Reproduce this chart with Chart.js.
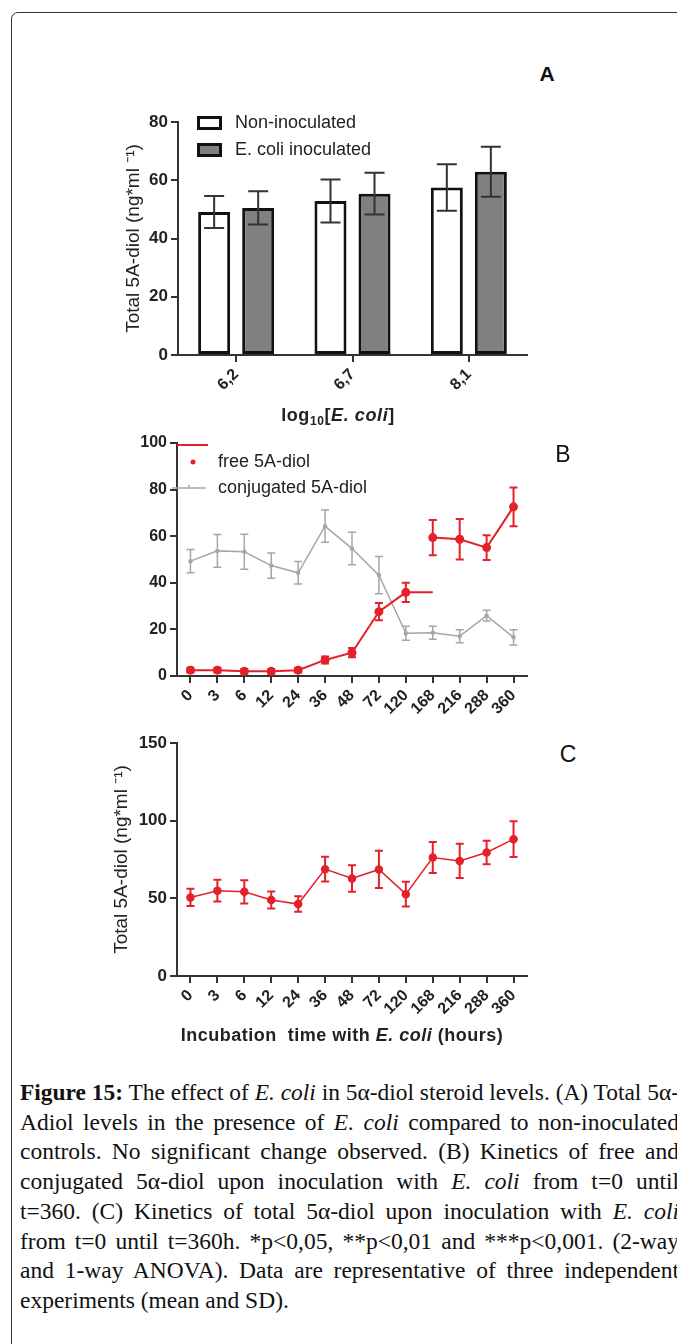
<!DOCTYPE html>
<html>
<head>
<meta charset="utf-8">
<script src="https://cdn.jsdelivr.net/npm/chart.js@4.4.1/dist/chart.umd.min.js"></script>
<style>
body { margin: 0; width: 677px; height: 1344px; background: #fff; overflow: hidden; position: relative; font-family: 'Liberation Sans', Arial, sans-serif; }
#frame { position: absolute; left: 11px; top: 12px; width: 720px; height: 1400px; border: 1px solid #333; border-radius: 7px; }
canvas { position: absolute; }
.letter { position: absolute; color: #111; line-height: 1; transform: translate(-50%, -50%); }
#caption { position: absolute; left: 20px; top: 1078px; font-family: 'Liberation Serif', 'Times New Roman', serif; font-size: 23.5px; line-height: 29.7px; color: #111; }
#caption .ln { white-space: nowrap; transform-origin: 0 0; }
</style>
</head>
<body>
<div id="frame"></div>
<canvas id="chart-a" width="430" height="340" style="left:110px; top:90px"></canvas>
<canvas id="chart-b" width="430" height="310" style="left:110px; top:425px"></canvas>
<canvas id="chart-c" width="440" height="330" style="left:100px; top:725px"></canvas>
<div class="letter" style="left:547px; top:73px; font-size:21px; font-weight:bold">A</div>
<div class="letter" style="left:563px; top:454px; font-size:23px">B</div>
<div class="letter" style="left:568px; top:754px; font-size:23px">C</div>

<div id="caption">
  <div class="ln"><span><b>Figure 15:</b> The effect of <i>E. coli</i> in 5α-diol steroid levels. (A) Total 5α-</span></div>
  <div class="ln"><span>Adiol levels in the presence of <i>E. coli</i> compared to non-inoculated</span></div>
  <div class="ln"><span>controls. No significant change observed. (B) Kinetics of free and</span></div>
  <div class="ln"><span>conjugated 5α-diol upon inoculation with <i>E. coli</i> from t=0 until</span></div>
  <div class="ln"><span>t=360. (C) Kinetics of total 5α-diol upon inoculation with <i>E. coli</i></span></div>
  <div class="ln"><span>from t=0 until t=360h. *p&lt;0,05, **p&lt;0,01 and ***p&lt;0,001. (2-way</span></div>
  <div class="ln"><span>and 1-way ANOVA). Data are representative of three independent</span></div>
  <div class="ln last"><span>experiments (mean and SD).</span></div>
</div>

<script>
// panel A - bars
const groupLabels = ['6,2', '6,7', '8,1'];
const nonInoculated = [49.1, 52.9, 57.5];
const nonInoculatedSD = [5.5, 7.4, 8.0];
const ecoliInoculated = [50.5, 55.4, 62.9];
const ecoliInoculatedSD = [5.7, 7.2, 8.6];

// panel B + C - time course (hours)
const hours = ['0', '3', '6', '12', '24', '36', '48', '72', '120', '168', '216', '288', '360'];
// free 5A-diol is drawn in two pieces in the original (line after 120h runs flat to 168)
const freeEarly = [2.5, 2.5, 2, 2, 2.5, 6.9, 10, 27.6, 35.9, 35.9, null, null, null];
const freeEarlySD = [1, 1, 1, 1, 1, 1.5, 2, 3.7, 4.1, 0, null, null, null];
const freeLate = [null, null, null, null, null, null, null, null, null, 59.4, 58.7, 55.1, 72.6];
const freeLateSD = [null, null, null, null, null, null, null, null, null, 7.6, 8.7, 5.3, 8.3];
const conjugated = [49.3, 53.7, 53.3, 47.4, 44.3, 64.3, 54.7, 43.3, 18.3, 18.6, 17.1, 25.9, 16.6];
const conjugatedSD = [5, 7, 7.5, 5.4, 4.8, 6.9, 7, 8, 3, 2.8, 2.8, 2.3, 3.3];
const totalDiol = [50.6, 54.9, 54.2, 48.9, 46.3, 68.8, 62.8, 68.6, 52.7, 76.3, 74.1, 79.5, 88.1];
const totalDiolSD = [5.5, 7, 7.5, 5.5, 5, 8, 8.5, 12, 8, 10, 11, 7.5, 11.5];

const yTicksA = [0, 20, 40, 60, 80];
const yTicksB = [0, 20, 40, 60, 80, 100];
const yTicksC = [0, 50, 100, 150];

const RED = '#e4202a';
const GREY = '#a6a6a6';
const INK = '#222';
const FONT = "'Liberation Sans', Arial, sans-serif";

Chart.defaults.font.family = FONT;
Chart.defaults.color = INK;

// error bars drawn from dataset.errors through the y scale
const errorBars = {
    id: 'errorBars',
    afterDatasetsDraw(chart) {
        const ctx = chart.ctx;
        const y = chart.scales.y;
        chart.data.datasets.forEach(function (ds, i) {
            if (!ds.errors) return;
            const meta = chart.getDatasetMeta(i);
            ctx.save();
            ctx.strokeStyle = ds.errorColor;
            ctx.lineWidth = ds.errorWidth;
            meta.data.forEach(function (el, j) {
                const v = ds.data[j], e = ds.errors[j];
                if (v == null || !e) return;
                const top = y.getPixelForValue(v + e);
                const bot = y.getPixelForValue(v - e);
                const c = ds.capWidth / 2;
                ctx.beginPath();
                ctx.moveTo(el.x, top); ctx.lineTo(el.x, bot);
                ctx.moveTo(el.x - c, top); ctx.lineTo(el.x + c, top);
                ctx.moveTo(el.x - c, bot); ctx.lineTo(el.x + c, bot);
                ctx.stroke();
            });
            ctx.restore();
        });
    }
};

function drawRich(ctx, parts, cx, baseY, spacing) {
    ctx.letterSpacing = spacing || '0px';
    let total = 0;
    parts.forEach(function (p) { ctx.font = p.font; p.w = ctx.measureText(p.t).width; total += p.w; });
    let x = cx - total / 2;
    ctx.textAlign = 'left';
    ctx.textBaseline = 'alphabetic';
    parts.forEach(function (p) { ctx.font = p.font; ctx.fillText(p.t, x, baseY + (p.dy || 0)); x += p.w; });
    ctx.letterSpacing = '0px';
}

function yAxis(ticks, width, tickSize, title, titlePad) {
    return {
        min: ticks[0],
        max: ticks[ticks.length - 1],
        afterBuildTicks: function (axis) { axis.ticks = ticks.map(function (v) { return { value: v }; }); },
        ticks: { font: { size: tickSize, weight: 'bold' }, color: INK, padding: 3 },
        grid: { drawOnChartArea: false, color: '#333', lineWidth: 2, tickLength: 7 },
        border: { color: '#333', width: 2 },
        title: title ? { display: true, text: title, font: { size: 19 }, color: INK, padding: { top: titlePad, bottom: 0 } } : { display: false },
        afterFit: function (axis) { axis.width = width; }
    };
}

function xAxis(height, tickSize) {
    return {
        offset: true,
        ticks: { minRotation: 45, maxRotation: 45, autoSkip: false, font: { size: tickSize, weight: 'bold' }, color: INK, padding: 3 },
        grid: { drawOnChartArea: false, offset: false, color: '#333', lineWidth: 2, tickLength: 7 },
        border: { color: '#333', width: 2 },
        afterFit: function (axis) { axis.height = height; }
    };
}

// ---------- A ----------
const extrasA = {
    id: 'extrasA',
    afterDraw(chart) {
        const ctx = chart.ctx, a = chart.chartArea;
        ctx.save();
        chart.data.datasets.forEach(function (ds, i) {
            const bx = a.left + 19, by = a.top - 6 + i * 27;
            ctx.fillStyle = ds.backgroundColor;
            ctx.fillRect(bx, by, 25, 14);
            ctx.strokeStyle = ds.borderColor;
            ctx.lineWidth = 3;
            ctx.strokeRect(bx + 1.5, by + 1.5, 22, 11);
            ctx.fillStyle = INK;
            ctx.font = '18px ' + FONT;
            ctx.textBaseline = 'middle';
            ctx.fillText(ds.label, a.left + 57, by + 7);
        });
        ctx.fillStyle = INK;
        drawRich(ctx, [
            { t: 'log', font: 'bold 18px ' + FONT },
            { t: '10', font: 'bold 12px ' + FONT, dy: 4 },
            { t: '[', font: 'bold 18px ' + FONT },
            { t: 'E. coli', font: 'italic bold 18px ' + FONT },
            { t: ']', font: 'bold 18px ' + FONT }
        ], a.left + 160, a.bottom + 66, '0.6px');
        ctx.restore();
    }
};

new Chart(document.getElementById('chart-a'), {
    type: 'bar',
    data: {
        labels: groupLabels,
        datasets: [{
            label: 'Non-inoculated',
            data: nonInoculated,
            errors: nonInoculatedSD,
            backgroundColor: '#ffffff',
            borderColor: '#111',
            borderWidth: 3,
            borderSkipped: false,
            errorColor: '#333', errorWidth: 2, capWidth: 20
        }, {
            label: 'E. coli inoculated',
            data: ecoliInoculated,
            errors: ecoliInoculatedSD,
            backgroundColor: '#808080',
            borderColor: '#111',
            borderWidth: 3,
            borderSkipped: false,
            errorColor: '#333', errorWidth: 2, capWidth: 20
        }]
    },
    options: {
        responsive: false,
        animation: false,
        devicePixelRatio: 1,
        categoryPercentage: 0.757,
        barPercentage: 0.727,
        layout: { padding: { top: 32, right: 13, left: 0, bottom: 0 } },
        plugins: { legend: { display: false }, tooltip: { enabled: false } },
        scales: {
            x: xAxis(75, 16),
            y: yAxis(yTicksA, 68, 17, 'Total 5A-diol (ng*ml ⁻¹)', 12)
        }
    },
    plugins: [errorBars, extrasA]
});

// ---------- B ----------
const extrasB = {
    id: 'extrasB',
    afterDraw(chart) {
        const ctx = chart.ctx, a = chart.chartArea;
        const free = chart.data.datasets[0], conj = chart.data.datasets[2];
        ctx.save();
        ctx.strokeStyle = free.borderColor;
        ctx.lineWidth = 2;
        ctx.beginPath(); ctx.moveTo(a.left, a.top + 2); ctx.lineTo(a.left + 31, a.top + 2); ctx.stroke();
        ctx.fillStyle = free.borderColor;
        ctx.beginPath(); ctx.arc(a.left + 16, a.top + 19, 2.5, 0, Math.PI * 2); ctx.fill();
        ctx.strokeStyle = conj.borderColor;
        ctx.lineWidth = 1.5;
        ctx.beginPath();
        ctx.moveTo(a.left - 5, a.top + 45); ctx.lineTo(a.left + 29, a.top + 45);
        ctx.moveTo(a.left + 12, a.top + 42); ctx.lineTo(a.left + 12, a.top + 45);
        ctx.stroke();
        ctx.fillStyle = INK;
        ctx.font = '18px ' + FONT;
        ctx.textBaseline = 'middle';
        ctx.fillText(free.label, a.left + 41, a.top + 19);
        ctx.fillText(conj.label, a.left + 41, a.top + 45);
        ctx.restore();
    }
};

new Chart(document.getElementById('chart-b'), {
    type: 'line',
    data: {
        labels: hours,
        datasets: [{
            label: 'free 5A-diol',
            data: freeEarly,
            errors: freeEarlySD,
            borderColor: RED, backgroundColor: RED,
            borderWidth: 2,
            pointRadius: function (c) { return c.dataIndex === 9 ? 0 : 3.5; },
            tension: 0, order: 0,
            errorColor: RED, errorWidth: 2, capWidth: 8
        }, {
            label: 'free 5A-diol (late)',
            data: freeLate,
            errors: freeLateSD,
            borderColor: RED, backgroundColor: RED,
            borderWidth: 2, pointRadius: 3.5,
            tension: 0, order: 1,
            errorColor: RED, errorWidth: 2, capWidth: 8
        }, {
            label: 'conjugated 5A-diol',
            data: conjugated,
            errors: conjugatedSD,
            borderColor: GREY, backgroundColor: GREY,
            borderWidth: 1.5, pointRadius: 1.5,
            tension: 0, order: 2,
            errorColor: GREY, errorWidth: 1.5, capWidth: 8
        }]
    },
    options: {
        responsive: false,
        animation: false,
        devicePixelRatio: 1,
        spanGaps: false,
        layout: { padding: { top: 18, right: 13, left: 0, bottom: 0 } },
        plugins: { legend: { display: false }, tooltip: { enabled: false } },
        scales: {
            x: xAxis(59, 16),
            y: yAxis(yTicksB, 67, 16, null, 0)
        }
    },
    plugins: [errorBars, extrasB]
});

// ---------- C ----------
const extrasC = {
    id: 'extrasC',
    afterDraw(chart) {
        const ctx = chart.ctx, a = chart.chartArea;
        ctx.save();
        ctx.fillStyle = INK;
        drawRich(ctx, [
            { t: 'Incubation  time with ', font: 'bold 18px ' + FONT },
            { t: 'E. coli', font: 'italic bold 18px ' + FONT },
            { t: ' (hours)', font: 'bold 18px ' + FONT }
        ], a.left + 165, a.bottom + 65, '0.5px');
        ctx.restore();
    }
};

new Chart(document.getElementById('chart-c'), {
    type: 'line',
    data: {
        labels: hours,
        datasets: [{
            label: 'total 5A-diol',
            data: totalDiol,
            errors: totalDiolSD,
            borderColor: RED, backgroundColor: RED,
            borderWidth: 1.5, pointRadius: 3.5,
            tension: 0,
            errorColor: RED, errorWidth: 2, capWidth: 8
        }]
    },
    options: {
        responsive: false,
        animation: false,
        devicePixelRatio: 1,
        layout: { padding: { top: 18, right: 13, left: 0, bottom: 0 } },
        plugins: { legend: { display: false }, tooltip: { enabled: false } },
        scales: {
            x: xAxis(79, 16),
            y: yAxis(yTicksC, 77, 17, 'Total 5A-diol (ng*ml ⁻¹)', 10)
        }
    },
    plugins: [errorBars, extrasC]
});

// justify caption lines to the same right edge as the original
const LINE_W = 659;
document.querySelectorAll('#caption .ln').forEach(function (ln) {
    if (ln.classList.contains('last')) return;
    const span = ln.firstElementChild;
    const w = span.getBoundingClientRect().width;
    const gaps = (span.textContent.match(/ /g) || []).length;
    if (w > LINE_W) {
        ln.style.transform = 'scaleX(' + (LINE_W / w) + ')';
    } else if (gaps) {
        ln.style.wordSpacing = ((LINE_W - w) / gaps) + 'px';
    }
});
</script>
</body>
</html>
